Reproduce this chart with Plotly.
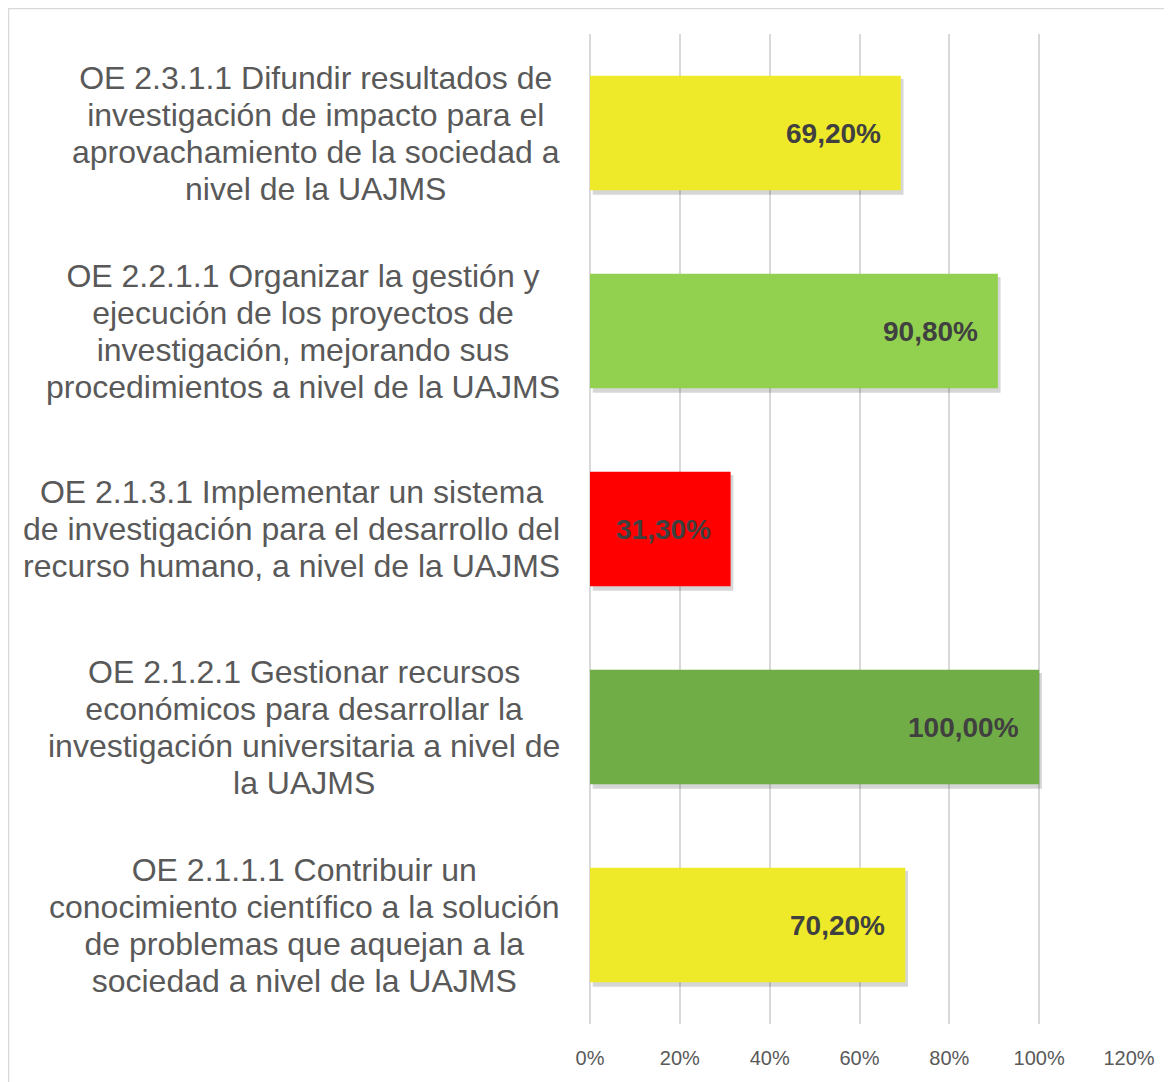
import plotly.graph_objects as go

categories = [
    "OE 2.3.1.1 Difundir resultados de<br>investigación de impacto para el<br>aprovachamiento de la sociedad a<br>nivel de la UAJMS",
    "OE 2.2.1.1 Organizar la gestión y<br>ejecución de los proyectos de<br>investigación, mejorando sus<br>procedimientos a nivel de la UAJMS",
    "OE 2.1.3.1 Implementar un sistema<br>de investigación para el desarrollo del<br>recurso humano, a nivel de la UAJMS",
    "OE 2.1.2.1 Gestionar recursos<br>económicos para desarrollar la<br>investigación universitaria a nivel de<br>la UAJMS",
    "OE 2.1.1.1 Contribuir un<br>conocimiento científico a la solución<br>de problemas que aquejan a la<br>sociedad a nivel de la UAJMS",
]
values = [0.692, 0.908, 0.313, 1.0, 0.702]
value_labels = ["69,20%", "90,80%", "31,30%", "100,00%", "70,20%"]
bar_colors = ["#EEEA2A", "#92D050", "#FF0000", "#70AD47", "#EEEA2A"]
tick_vals = [0, 0.2, 0.4, 0.6, 0.8, 1.0, 1.2]
tick_text = ["0%", "20%", "40%", "60%", "80%", "100%", "120%"]

OFF = 8  # page body margin
W, H = 1172 - OFF, 1082 - OFF
ML, MR, MT, MB = 590 - OFF, 43, 34 - OFF, 58
pw = W - ML - MR
ph = H - MT - MB
FONT = "Arial"

fig = go.Figure()
# soft shadow bars
fig.add_trace(go.Bar(
    x=values, y=list(range(len(categories))), orientation="h",
    marker=dict(color="rgba(0,0,0,0.16)", line=dict(width=0)),
    width=0.585, offset=-0.285 + 0.012, base=0.006,
    hoverinfo="skip", showlegend=False,
))
fig.add_trace(go.Bar(
    x=values, y=list(range(len(categories))), orientation="h",
    marker=dict(color=bar_colors, line=dict(width=0)),
    width=0.578, offset=-0.289,
    showlegend=False,
))

for i, (v, lab, cat) in enumerate(zip(values, value_labels, categories)):
    fig.add_annotation(x=v, y=i, xref="x", yref="y", text="<b>%s</b>" % lab,
                       showarrow=False, xanchor="right", yanchor="middle", xshift=-18,
                       font=dict(family=FONT, size=28, color="#404040"))
    styled = "<br>".join("<span style='font-size:32px'>%s</span>" % ln for ln in cat.split("<br>"))
    fig.add_annotation(x=(562 - OFF - ML) / pw, xref="paper", y=i, yref="y", text=styled,
                       showarrow=False, xanchor="right", yanchor="middle", align="center",
                       font=dict(family=FONT, size=28.5, color="#595959"))

# outer border
fig.add_shape(type="rect", xref="paper", yref="paper",
              x0=(0.5 - ML) / pw, x1=(W + 5 - ML) / pw,
              y0=(H - MB - (H + 5)) / ph, y1=(H - MB - 0.5) / ph,
              line=dict(color="#D9D9D9", width=1.5), fillcolor="rgba(0,0,0,0)", layer="below")

fig.update_layout(
    width=W, height=H,
    margin=dict(l=ML, r=MR, t=MT, b=MB),
    paper_bgcolor="white", plot_bgcolor="white",
    barmode="overlay",
    xaxis=dict(range=[0, 1.2], tickvals=tick_vals, ticktext=tick_text,
               showgrid=True, gridcolor="#D9D9D9", gridwidth=1.5,
               zeroline=True, zerolinecolor="#D9D9D9", zerolinewidth=1.5,
               showline=False, ticks="", ticklabelstandoff=20,
               tickfont=dict(family=FONT, size=20, color="#595959")),
    yaxis=dict(range=[len(categories) - 0.5, -0.5], showticklabels=False,
               showgrid=False, zeroline=False, showline=False),
)

fig.write_html("out.html")
